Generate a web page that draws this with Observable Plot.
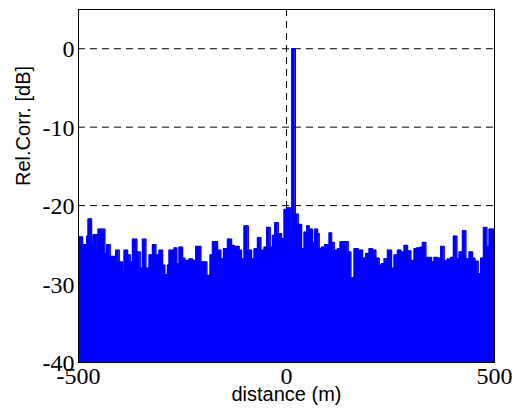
<!DOCTYPE html>
<html>
<head>
<meta charset="utf-8">
<script src="https://cdn.jsdelivr.net/npm/d3@7"></script>
<script src="https://cdn.jsdelivr.net/npm/@observablehq/plot@0.6"></script>
<style>
  html, body { margin: 0; padding: 0; background: #fff; }
</style>
</head>
<body>
<div id="chart"></div>
<script>
// distance (m) where each step starts
const distance = [
  -500, -490.4, -480, -476.8, -468.8, -464.7, -455.9, -452.7, -436.7, -431.9,
  -423.9, -410.3, -402.2, -394.2, -390.2, -382.2, -375.8, -370.2, -359.8, -351.8,
  -346.2, -338.1, -330.1, -322.1, -314.1, -306.1, -298.1, -292.5, -286.1, -282.1,
  -270.0, -263.6, -258.0, -250.0, -244.4, -234.0, -226.0, -218.0, -205.9, -197.9,
  -191.5, -183.5, -177.9, -165.9, -157.9, -151.4, -141.8, -132.2, -125.8, -113.8,
  -108.2, -101.8, -92.1, -84.1, -77.7, -69.7, -61.7, -53.7, -47.3, -39.3,
  -33.7, -28.0, -20.0, -12.0, -5.6, 0.8, 10.4, 13, 21, 28.0,
  36.1, 42.5, 48.9, 54.5, 62.5, 68.1, 74.5, 78.5, 84.1, 92.1,
  102.6, 108.2, 114.6, 122.6, 129.0, 138.6, 148.2, 154.6, 162.7, 172.3,
  182.7, 190.7, 198.7, 206.7, 214.7, 222.8, 228.4, 234.8, 242.8, 252.4,
  258.8, 266.8, 274.8, 282.9, 290.9, 298.9, 306.9, 313.3, 321.3, 326.9,
  334.9, 343.0, 348.6, 355.0, 363.0, 371.0, 379.0, 387.0, 395.0, 401.4,
  409.5, 415.1, 423.1, 431.1, 439.1, 447.1, 452.7, 460.7, 467.1, 473.6,
  481.6, 487.2, 492.8, 500
];
// relative correlation (dB)
const relCorr = [
  -24.0, -25.0, -23.9, -21.7, -24.9, -23.7, -26.0, -23.0, -26.1, -25.0,
  -26.5, -25.7, -27.2, -28.5, -25.7, -26.3, -27.2, -24.3, -25.9, -28.0,
  -24.3, -28.0, -26.3, -25.0, -26.3, -25.7, -27.6, -28.8, -27.6, -25.7,
  -25.4, -27.4, -25.3, -26.7, -27.0, -26.8, -27.0, -25.2, -27.2, -27.2,
  -28.9, -26.3, -24.6, -25.7, -26.8, -25.5, -24.3, -25.1, -25.2, -25.7,
  -26.8, -22.6, -25.7, -26.8, -25.5, -24.1, -25.7, -25.3, -22.8, -25.3,
  -23.8, -22.2, -23.6, -24.2, -20.5, -20.3, -23.4, 0.0, -21.1, -22.4,
  -25.5, -23.4, -22.6, -23.0, -24.7, -23.0, -23.6, -25.5, -25.3, -25.0,
  -23.5, -24.7, -25.7, -25.5, -24.6, -24.6, -25.9, -29.2, -25.5, -25.7,
  -26.7, -26.1, -25.5, -25.7, -26.7, -27.6, -27.4, -26.8, -25.7, -28.0,
  -26.3, -25.7, -25.9, -25.1, -25.8, -27.0, -25.5, -25.4, -25.3, -24.7,
  -26.6, -26.6, -27.2, -26.6, -26.7, -25.2, -27.0, -26.8, -26.6, -23.9,
  -26.8, -25.9, -23.2, -26.8, -25.9, -26.7, -27.1, -28.7, -26.7, -22.8,
  -25.2, -23.0, -23.0, -23.0
];
const yTicks = [-40, -30, -20, -10, 0];
const xTicks = [-500, 0, 500];
const gridY = [0, -10, -20, -30];
const gridX = [0];

const data = distance.map((d, i) => ({x: d, y: relCorr[i]}));
const serif = '"Liberation Serif", "Times New Roman", serif';
const sans = '"Liberation Sans", Arial, sans-serif';

const chart = Plot.plot({
  width: 514,
  height: 413,
  marginLeft: 78,
  marginRight: 20,
  marginTop: 9,
  marginBottom: 51,
  style: {background: "white", color: "black"},
  x: {domain: [-500, 500], axis: null},
  y: {domain: [-40, 5], axis: null},
  marks: [
    Plot.ruleY(gridY, {stroke: "black", strokeDasharray: "7,5", strokeWidth: 1}),
    Plot.ruleX(gridX, {stroke: "black", strokeDasharray: "7,5", strokeWidth: 1}),
    Plot.areaY(data, {x: "x", y1: -40, y2: "y", curve: "step-after", fill: "#0000ff", clip: true}),
    Plot.lineY(data, {x: "x", y: "y", curve: "step-after", stroke: "#0000ff", strokeWidth: 1.5, clip: true}),
    Plot.frame({stroke: "black", strokeWidth: 1}),
    // y tick labels
    Plot.text(yTicks, {y: d => d, frameAnchor: "left", textAnchor: "end", dx: -4, dy: 1,
      text: d => String(d), fontFamily: serif, fontSize: 24, fill: "black"}),
    // x tick labels
    Plot.text(xTicks, {x: d => d, frameAnchor: "bottom", lineAnchor: "top", dy: 4,
      text: d => String(d), fontFamily: serif, fontSize: 24, fill: "black"}),
    // axis titles
    Plot.text(["Rel.Corr. [dB]"], {frameAnchor: "left", rotate: -90, dx: -55,
      fontFamily: sans, fontSize: 20, fill: "black"}),
    Plot.text(["distance (m)"], {frameAnchor: "bottom", dy: 38,
      fontFamily: sans, fontSize: 20, fill: "black"})
  ]
});
document.getElementById("chart").appendChild(chart);
</script>
</body>
</html>
